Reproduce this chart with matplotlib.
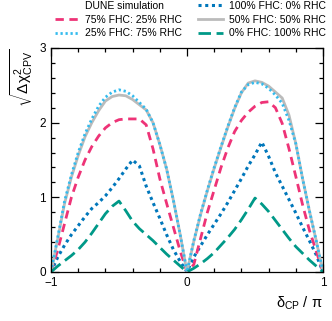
import matplotlib
matplotlib.use("Agg")
import matplotlib.pyplot as plt
from matplotlib.lines import Line2D
from matplotlib.ticker import MultipleLocator

plt.rcParams['font.family'] = ['Liberation Sans', 'DejaVu Sans']
plt.rcParams['mathtext.fontset'] = 'custom'
plt.rcParams['mathtext.rm'] = 'Liberation Sans'
plt.rcParams['mathtext.it'] = 'Liberation Sans'

delta_cp = [-1.0, -0.95, -0.9, -0.85, -0.8, -0.75, -0.7, -0.65, -0.6, -0.55, -0.5,
            -0.45, -0.4, -0.35, -0.3, -0.25, -0.2, -0.15, -0.1, -0.05, 0.0,
            0.05, 0.1, 0.15, 0.2, 0.25, 0.3, 0.35, 0.4, 0.45, 0.5,
            0.55, 0.6, 0.65, 0.7, 0.75, 0.8, 0.85, 0.9, 0.95, 1.0]

fhc100 = [0.0, 0.2, 0.36, 0.5, 0.62, 0.74, 0.85, 0.93, 1.02, 1.13, 1.25,
          1.38, 1.5, 1.42, 1.15, 0.93, 0.72, 0.5, 0.3, 0.14, 0.0,
          0.2, 0.35, 0.5, 0.64, 0.78, 0.93, 1.09, 1.25, 1.42, 1.57,
          1.74, 1.55, 1.33, 1.15, 0.97, 0.79, 0.6, 0.42, 0.23, 0.0]

fhc75 = [0.0, 0.3, 0.65, 1.0, 1.27, 1.5, 1.68, 1.82, 1.93, 2.0, 2.04,
         2.05, 2.05, 2.05, 1.97, 1.65, 1.25, 0.92, 0.6, 0.28, 0.0,
         0.1, 0.45, 0.8, 1.1, 1.4, 1.66, 1.88, 2.03, 2.14, 2.22,
         2.27, 2.28, 2.2, 1.99, 1.65, 1.28, 0.9, 0.56, 0.28, 0.0]

fhc50 = [0.0, 0.45, 0.92, 1.27, 1.56, 1.81, 2.0, 2.16, 2.29, 2.35, 2.37,
         2.36, 2.31, 2.24, 2.17, 2.0, 1.71, 1.38, 0.96, 0.5, 0.0,
         0.41, 0.77, 1.09, 1.39, 1.67, 1.94, 2.19, 2.4, 2.53, 2.56,
         2.54, 2.49, 2.41, 2.33, 2.1, 1.72, 1.25, 0.82, 0.42, 0.0]

fhc25 = [0.0, 0.47, 0.95, 1.3, 1.6, 1.85, 2.05, 2.22, 2.34, 2.41, 2.44,
         2.42, 2.36, 2.27, 2.18, 2.0, 1.71, 1.38, 0.96, 0.5, 0.0,
         0.42, 0.78, 1.1, 1.4, 1.68, 1.95, 2.2, 2.41, 2.51, 2.54,
         2.52, 2.46, 2.37, 2.26, 2.03, 1.72, 1.25, 0.82, 0.42, 0.0]

fhc0 = [0.0, 0.08, 0.15, 0.22, 0.3, 0.4, 0.52, 0.65, 0.78, 0.88, 0.95,
        0.82, 0.68, 0.58, 0.5, 0.42, 0.33, 0.24, 0.16, 0.08, 0.0,
        0.05, 0.11, 0.18, 0.26, 0.36, 0.46, 0.57, 0.7, 0.84, 0.99,
        0.91, 0.81, 0.69, 0.57, 0.45, 0.34, 0.25, 0.16, 0.08, 0.0]

labels = ["100% FHC: 0% RHC", "75% FHC: 25% RHC", "50% FHC: 50% RHC",
          "25% FHC: 75% RHC", "0% FHC: 100% RHC"]

fig = plt.figure(figsize=(3.32, 3.21), dpi=100)
ax = fig.add_axes([51/332, 1 - 272/321, 272/332, 224/321])

l100, = ax.plot(delta_cp, fhc100, color='#0077BB', lw=2.2, linestyle=(0, (1.0, 1.2)))
l75, = ax.plot(delta_cp, fhc75, color='#EE3377', lw=2.0, linestyle=(0, (3.0, 2.0)))
l50, = ax.plot(delta_cp, fhc50, color='#BBBBBB', lw=2.0, linestyle='-')
l25, = ax.plot(delta_cp, fhc25, color='#33BBEE', lw=2.0, linestyle=(0, (0.8, 1.0)))
l0, = ax.plot(delta_cp, fhc0, color='#009988', lw=2.0, linestyle=(0, (4.5, 2.0)))

ax.set_xlim(-1, 1)
ax.set_ylim(0, 3)
ax.xaxis.set_major_locator(MultipleLocator(1))
ax.xaxis.set_minor_locator(MultipleLocator(0.2))
ax.yaxis.set_major_locator(MultipleLocator(1))
ax.yaxis.set_minor_locator(MultipleLocator(0.2))
ax.tick_params(which='both', direction='in', top=True, right=True, labelsize=8.5, width=0.9)
ax.tick_params(which='major', length=5.5)
ax.tick_params(which='minor', length=3)
for s in ax.spines.values():
    s.set_linewidth(0.9)

ax.set_xlabel(r'$\mathregular{\delta_{CP}}$ / $\mathregular{\pi}$', fontsize=10.5, loc='right', labelpad=4)
ax.set_ylabel(r'$\mathregular{\sqrt{\Delta\chi^{2}_{CPV}}}$', fontsize=11, loc='top', labelpad=3)

blank = Line2D([], [], color='none')
handles = [blank, l75, l25, l100, l50, l0]
leg_labels = ["DUNE simulation", labels[1], labels[3], labels[0], labels[2], labels[4]]
fig.legend(handles, leg_labels, loc='upper left', bbox_to_anchor=(55/332, 1 - 1/321),
           ncol=2, frameon=False, fontsize=7.5, borderpad=0, handlelength=2.4,
           handletextpad=0.5, columnspacing=1.55, labelspacing=0.35, borderaxespad=0)

fig.savefig('out.png', dpi=100)
